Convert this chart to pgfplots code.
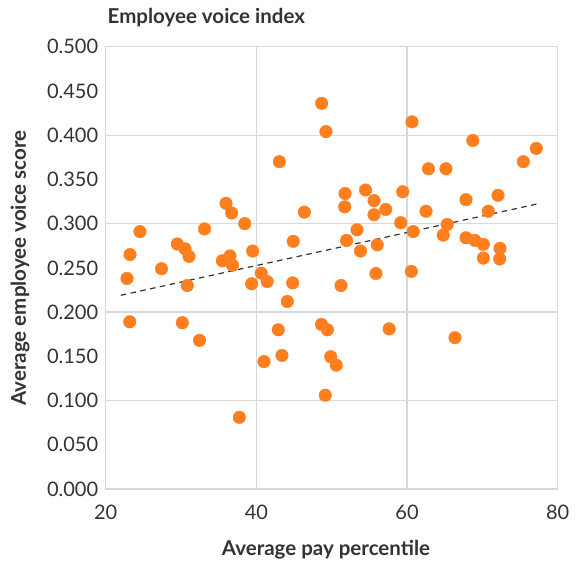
\documentclass[border=0pt]{standalone}
\usepackage{fontspec}
\setmainfont{Lato}
\usepackage{pgfplots}
\usepackage{pgfplotstable}
\pgfplotsset{compat=1.18}
\definecolor{dotorange}{HTML}{FF7F1F}
\definecolor{txt}{HTML}{333333}
\definecolor{gridgray}{HTML}{D8D8D8}
\pgfplotstableread{
x y
22.83 0.238
23.23 0.265
23.19 0.189
24.55 0.291
27.41 0.249
29.50 0.277
30.53 0.2715
31.06 0.263
30.83 0.230
30.17 0.188
32.45 0.168
33.12 0.294
35.97 0.323
36.73 0.312
35.48 0.258
36.50 0.2635
36.83 0.253
37.74 0.081
38.45 0.300
39.51 0.269
39.38 0.232
40.64 0.244
41.44 0.2345
41.01 0.144
42.91 0.180
43.05 0.370
43.40 0.151
44.11 0.212
44.82 0.233
44.90 0.280
46.36 0.313
48.67 0.436
49.24 0.404
48.65 0.186
49.44 0.180
49.15 0.106
49.87 0.1495
50.60 0.140
51.24 0.230
51.77 0.334
51.73 0.319
51.97 0.281
53.36 0.293
53.82 0.269
54.49 0.338
55.62 0.326
55.62 0.310
56.05 0.276
55.88 0.2436
57.17 0.316
57.63 0.181
59.43 0.336
59.16 0.301
60.57 0.246
60.66 0.415
60.83 0.291
62.52 0.314
62.85 0.362
65.17 0.362
64.80 0.287
65.33 0.299
66.37 0.171
67.83 0.327
67.83 0.284
68.73 0.394
69.02 0.281
70.13 0.2765
70.13 0.261
70.79 0.314
72.08 0.332
72.34 0.272
72.30 0.260
75.44 0.370
77.16 0.385
}\voicedata
\begin{document}
\begin{tikzpicture}[x=1pt,y=1pt]
\path[use as bounding box] (0,0) rectangle (587,566);
\begin{axis}[
  at={(105.7pt,77pt)}, anchor=south west,
  scale only axis, width=452pt, height=442.3pt,
  xmin=20, xmax=80, ymin=0, ymax=0.5,
  xtick={20,40,60,80},
  ytick={0,0.05,...,0.5},
  extra y ticks={0.1,0.2,0.3,0.4},
  extra y tick labels={},
  extra y tick style={ymajorgrids=true},
  xmajorgrids=true,
  major grid style={draw=gridgray, line width=1.2pt},
  axis line style={draw=gridgray, line width=1.2pt},
  major tick length=0pt,
  tick style={draw=none},
  /pgf/number format/assume math mode=true,
  y tick label style={/pgf/number format/fixed, /pgf/number format/fixed zerofill, /pgf/number format/precision=3},
  ticklabel style={font=\fontsize{20}{22}\selectfont, text=txt},
  yticklabel style={xshift=-4pt},
  xticklabel style={yshift=-12pt},
  clip=false,
]
\addplot[only marks, mark=*, mark size=6.3pt, color=dotorange, mark options={draw=none, fill=dotorange}] table[x=x,y=y] {\voicedata};
\addplot[draw=black!80, line width=1.2pt, dash pattern=on 5.5pt off 4.5pt] coordinates {(22.0,0.219) (77.7,0.323)};
\end{axis}
\node[anchor=base west, text=txt, font=\bfseries\fontsize{20.5}{22}\selectfont, inner sep=0pt] at (107.5,542) {Employee voice index};
\node[anchor=center, text=txt, font=\bfseries\fontsize{20.5}{22}\selectfont, inner sep=0pt, rotate=90] at (20,298) {Average employee voice score};
\node[anchor=center, text=txt, font=\bfseries\fontsize{20.5}{22}\selectfont, inner sep=0pt] at (326,16) {Average pay percentile};
\end{tikzpicture}
\end{document}
